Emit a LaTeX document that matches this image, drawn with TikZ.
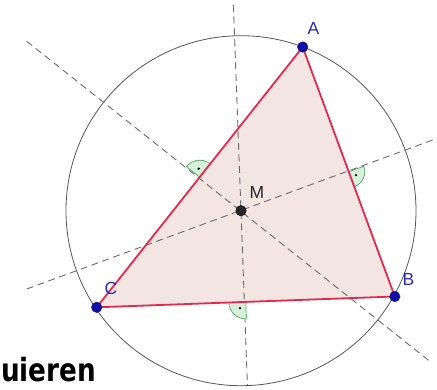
\documentclass[tikz,border=0pt]{standalone}
\usepackage{fontspec}
\setmainfont{Liberation Sans}
\newfontfamily\titlefont{DejaVu Sans}
\usetikzlibrary{calc}
\definecolor{edgecol}{HTML}{E4284F}
\definecolor{fillcol}{HTML}{F3E5E1}
\definecolor{ptcol}{HTML}{1010A8}
\definecolor{lblcol}{HTML}{2A2AB8}
\definecolor{circcol}{HTML}{555555}
\definecolor{dashcol}{HTML}{6A6A6A}
\definecolor{secfill}{HTML}{D6F0DA}
\definecolor{secdraw}{HTML}{3F9A55}
\tikzset{
  pt/.style={circle, fill=ptcol, draw=ptcol!70!black, line width=0.4pt, inner sep=0pt, minimum size=10.5pt},
  mpt/.style={circle, fill=black!85, draw=black, line width=0.4pt, inner sep=0pt, minimum size=10.5pt},
  lbl/.style={text=lblcol, font=\fontsize{17.5}{17.5}\selectfont, inner sep=0pt},
  mlbl/.style={text=black!85, font=\fontsize{17.5}{17.5}\selectfont, inner sep=0pt},
  bis/.style={draw=dashcol, line width=0.9pt, dash pattern=on 7pt off 4.5pt},
  edge/.style={draw=edgecol, line width=1.8pt, line join=round},
  circ/.style={draw=circcol, line width=0.8pt},
  sector/.style={fill=secfill, draw=secdraw, line width=0.6pt},
  secdot/.style={circle, fill=black, inner sep=0pt, minimum size=2.6pt},
}
\begin{document}
\begin{tikzpicture}[x=1pt, y=1pt, yscale=-1]
\useasboundingbox (0,0) rectangle (437,389);
% points
\coordinate (A) at (302.7,47);
\coordinate (B) at (394.8,296.5);
\coordinate (C) at (96.7,307.3);
\coordinate (M) at (241,210.7);
\coordinate (mAC) at ($(A)!0.5!(C)$);
\coordinate (mAB) at ($(A)!0.5!(B)$);
\coordinate (mBC) at ($(B)!0.5!(C)$);
% ends of the bisectors
\coordinate (bc1) at (233.4,5);
\coordinate (bc2) at (247.4,385);
\coordinate (ac1) at (26.7,41.3);
\coordinate (ac2) at (432,363);
\coordinate (ab1) at (26.7,289);
\coordinate (ab2) at (437,138.4);
% triangle fill
\fill[fillcol] (A) -- (B) -- (C) -- cycle;
% circumcircle
\draw[circ] (M) circle[radius=175];
% perpendicular bisectors
\draw[bis] (bc1) -- (bc2);
\draw[bis] (ac1) -- (ac2);
\draw[bis] (ab1) -- (ab2);
% right angle markers
\draw[sector] (mAC) -- ++(-141.6:17) arc[start angle=-141.6, end angle=-51.7, radius=17] -- cycle;
\node[secdot] (dAC) at ($(mAC)+(-96.6:8.5)$) {};
\draw[sector] (mAB) -- ++(-20.2:16) arc[start angle=-20.2, end angle=69.8, radius=16] -- cycle;
\node[secdot] (dAB) at ($(mAB)+(24.8:8)$) {};
\draw[sector] (mBC) -- ++(87.9:17) arc[start angle=87.9, end angle=177.9, radius=17] -- cycle;
\node[secdot] (dBC) at ($(mBC)+(132.9:8.5)$) {};
% triangle edges
\draw[edge] (A) -- (B) -- (C) -- cycle;
% vertices
\node[pt] (pA) at (A) {};
\node[pt] (pB) at (B) {};
\node[pt] (pC) at (C) {};
\node[mpt] (pM) at (M) {};
% labels
\node[lbl] (lA) at (313.5,28.5) {A};
\node[lbl] (lB) at (408.5,279.5) {B};
\node[lbl] (lC) at (111,288.5) {C};
\node[mlbl] (lM) at (257,192.5) {M};
% cropped title
\node[anchor=base west, inner sep=0pt, font=\titlefont\fontsize{32}{32}\selectfont\bfseries] (title) at (1,381) {\scalebox{0.82}[1]{uieren}};
\end{tikzpicture}
\end{document}
